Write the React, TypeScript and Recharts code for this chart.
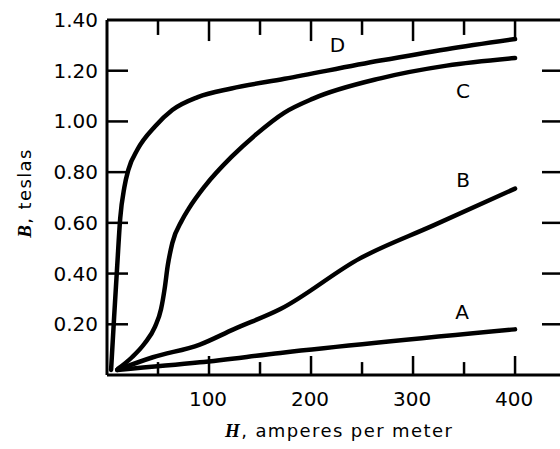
import React from 'react';
import { LineChart, Line, XAxis, YAxis, ReferenceDot, ReferenceLine, Label } from 'recharts';

// H, amperes per meter  /  B, teslas
const hTicks = [50, 100, 150, 200, 250, 300, 350, 400];
const hTickLabels = ['', '100', '', '200', '', '300', '', '400'];
const bTicks = [0.2, 0.4, 0.6, 0.8, 1.0, 1.2, 1.4];
const bTickLabels = ['0.20', '0.40', '0.60', '0.80', '1.00', '1.20', '1.40'];

const aH = [10, 91, 170, 400];
const aB = [0.02, 0.05, 0.087, 0.18];

const bH = [10, 45, 91, 124, 170, 248, 320, 400];
const bB = [0.02, 0.07, 0.12, 0.18, 0.26, 0.46, 0.59, 0.735];

const cH = [11, 24.5, 37, 47, 53, 56.5, 59.5, 64, 73.5, 80, 96, 122, 145, 174, 202, 268, 333, 400];
const cB = [0.025, 0.07, 0.125, 0.19, 0.26, 0.34, 0.43, 0.52, 0.61, 0.655, 0.745, 0.86, 0.945, 1.035, 1.09, 1.17, 1.22, 1.25];

const dH = [4, 7, 10, 13, 17, 21, 30, 47, 64, 89, 122, 174, 268, 333, 400];
const dB = [0.02, 0.23, 0.43, 0.62, 0.74, 0.81, 0.89, 0.98, 1.045, 1.096, 1.13, 1.168, 1.24, 1.285, 1.325];

const toPoints = (hs: number[], bs: number[]) => hs.map((h, i) => ({ h, b: bs[i] }));
const seriesA = toPoints(aH, aB);
const seriesB = toPoints(bH, bB);
const seriesC = toPoints(cH, cB);
const seriesD = toPoints(dH, dB);

const H_MAX = 447;
const B_MAX = 1.4;
const FONT = 'DejaVu Sans';

const BottomTickLabel = (props: any) => {
  const { x, y, index } = props;
  const t = hTickLabels[index];
  if (!t) return <g />;
  return (
    <text x={x - 1} y={y + 31} textAnchor="middle" fontFamily={FONT} fontSize={20} fill="#000">
      {t}
    </text>
  );
};

const LeftTickLabel = (props: any) => {
  const { x, y, index } = props;
  return (
    <text x={x - 9} y={y + 7} textAnchor="end" fontFamily={FONT} fontSize={20} fill="#000">
      {bTickLabels[index]}
    </text>
  );
};

const XTitle = (props: any) => {
  const vb = props.viewBox || { x: 107, y: 375 };
  return (
    <text x={vb.x + 118} y={vb.y + 62} fontFamily={FONT} fontSize={18} fill="#000" letterSpacing={1.4}>
      <tspan fontFamily="Liberation Serif" fontWeight="bold" fontStyle="italic" fontSize={19}>H</tspan>
      <tspan>, amperes per meter</tspan>
    </text>
  );
};

const YTitle = () => {
  const cx = 31;
  const cy = 193;
  return (
    <text
      x={cx}
      y={cy}
      textAnchor="middle"
      transform={`rotate(-90, ${cx}, ${cy})`}
      fontFamily={FONT}
      fontSize={18}
      fill="#000"
      letterSpacing={1.4}
    >
      <tspan fontFamily="Liberation Serif" fontWeight="bold" fontStyle="italic" fontSize={19}>B</tspan>
      <tspan>, teslas</tspan>
    </text>
  );
};

const letterLabel = (t: string) => ({
  value: t,
  position: 'center' as const,
  fontSize: 20,
  fill: '#000',
  fontFamily: FONT,
});

export default function App() {
  const lineProps = {
    type: 'monotone' as const,
    dataKey: 'b',
    stroke: '#000',
    strokeWidth: 4.5,
    dot: false,
    activeDot: false,
    isAnimationActive: false,
    strokeLinecap: 'round' as const,
  };
  const tickStroke = { stroke: '#000', strokeWidth: 2.5, ifOverflow: 'visible' as const };
  // tick lengths converted to data units (px -> units)
  const bottomLen = (v: number) => (v % 100 === 0 ? 0.075 : 0.051);
  const topLen = (v: number) => (v % 100 === 0 ? 0.083 : 0.059);
  const sideLen = 20.6;
  return (
    <div
      style={{
        position: 'absolute',
        left: 0,
        top: 0,
        width: 560,
        height: 449,
        overflow: 'hidden',
        background: '#fff',
      }}
    >
      <LineChart width={580} height={449} margin={{ top: 20, right: 17, bottom: 0, left: 0 }}>
        <XAxis
          type="number"
          dataKey="h"
          domain={[0, H_MAX]}
          ticks={hTicks}
          interval={0}
          allowDataOverflow
          height={74}
          tickLine={false}
          tickSize={0}
          tickMargin={0}
          tick={BottomTickLabel}
          axisLine={{ stroke: '#000', strokeWidth: 3 }}
        >
          <Label content={<XTitle />} />
        </XAxis>
        <YAxis
          type="number"
          domain={[0, B_MAX]}
          ticks={bTicks}
          interval={0}
          allowDataOverflow
          width={107}
          tickLine={false}
          tickSize={0}
          tickMargin={0}
          tick={LeftTickLabel}
          axisLine={{ stroke: '#000', strokeWidth: 3 }}
        >
          <Label content={<YTitle />} />
        </YAxis>

        {/* frame: top and right borders */}
        <ReferenceLine y={B_MAX} stroke="#000" strokeWidth={3} ifOverflow="visible" />
        <ReferenceLine x={H_MAX} stroke="#000" strokeWidth={3} ifOverflow="visible" />

        {/* inward ticks on bottom and top */}
        {hTicks.map((v) => (
          <ReferenceLine key={`bt${v}`} segment={[{ x: v, y: 0 }, { x: v, y: bottomLen(v) }]} {...tickStroke} />
        ))}
        {hTicks.map((v) => (
          <ReferenceLine key={`tt${v}`} segment={[{ x: v, y: B_MAX }, { x: v, y: B_MAX - topLen(v) }]} {...tickStroke} />
        ))}
        {/* inward ticks on left and right */}
        {bTicks.slice(0, 6).map((v) => (
          <ReferenceLine key={`lt${v}`} segment={[{ x: 0, y: v }, { x: sideLen, y: v }]} {...tickStroke} />
        ))}
        {bTicks.slice(0, 6).map((v) => (
          <ReferenceLine key={`rt${v}`} segment={[{ x: H_MAX, y: v }, { x: H_MAX - sideLen, y: v }]} {...tickStroke} />
        ))}

        <Line {...lineProps} data={seriesA} name="A" />
        <Line {...lineProps} data={seriesB} name="B" />
        <Line {...lineProps} data={seriesC} name="C" />
        <Line {...lineProps} data={seriesD} name="D" />
        <ReferenceDot x={348} y={0.25} r={0} fill="none" stroke="none" label={letterLabel('A')} />
        <ReferenceDot x={349} y={0.77} r={0} fill="none" stroke="none" label={letterLabel('B')} />
        <ReferenceDot x={349} y={1.12} r={0} fill="none" stroke="none" label={letterLabel('C')} />
        <ReferenceDot x={226} y={1.3} r={0} fill="none" stroke="none" label={letterLabel('D')} />
      </LineChart>
    </div>
  );
}
